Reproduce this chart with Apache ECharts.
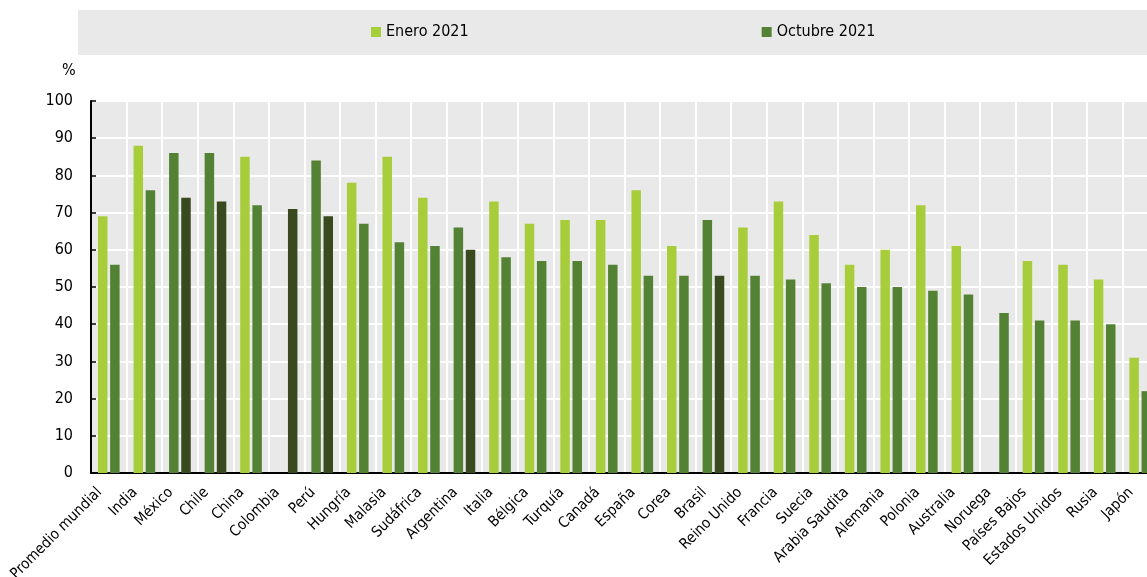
<!DOCTYPE html>
<html>
<head>
<meta charset="utf-8">
<script src="https://cdn.jsdelivr.net/npm/echarts@6/dist/echarts.min.js"></script>
<style>
  html, body { margin: 0; padding: 0; background: #fff; }
  #chart { width: 1147px; height: 577px; }
</style>
</head>
<body>
<div id="chart"></div>
<script>
const paises = ['Promedio mundial', 'India', 'México', 'Chile', 'China', 'Colombia', 'Perú', 'Hungría', 'Malasia', 'Sudáfrica',
  'Argentina', 'Italia', 'Bélgica', 'Turquía', 'Canadá', 'España', 'Corea', 'Brasil', 'Reino Unido', 'Francia',
  'Suecia', 'Arabia Saudita', 'Alemania', 'Polonia', 'Australia', 'Noruega', 'Países Bajos', 'Estados Unidos', 'Rusia', 'Japón']
const enero2021 = [69, 88, 86, 86, 85, null, 84, 78, 85, 74, 66, 73, 67, 68, 68, 76, 61, 68, 66, 73, 64, 56, 60, 72, 61, null, 57, 56, 52, 31]
const octubre2021 = [56, 76, 74, 73, 72, 71, 69, 67, 62, 61, 60, 58, 57, 57, 56, 53, 53, 53, 53, 52, 51, 50, 50, 49, 48, 43, 41, 41, 40, 22]
// países resaltados con tonos más oscuros
const destacados = ['México', 'Chile', 'Colombia', 'Perú', 'Argentina', 'Brasil']
const yTicks = [0, 10, 20, 30, 40, 50, 60, 70, 80, 90, 100]

const VERDE_CLARO = '#a8cd3a'
const VERDE = '#548235'
const VERDE_OSCURO = '#3a4a1f'
const FONT = '"DejaVu Sans Condensed", "Liberation Sans Narrow", "Liberation Sans", Arial, sans-serif'

const chart = echarts.init(document.getElementById('chart'))

const option = {
  animation: false,
  textStyle: { fontFamily: FONT },
  graphic: [
    {
      type: 'rect',
      left: 78, top: 10,
      shape: { width: 1069, height: 45 },
      style: { fill: '#e9e9e9' },
      z: -1
    },
    {
      type: 'text',
      left: 62, top: 63,
      style: { text: '%', fill: '#000', font: '16px ' + FONT }
    }
  ],
  legend: {
    left: 371,
    top: 24,
    padding: 0,
    itemWidth: 10,
    itemHeight: 10,
    itemGap: 293,
    icon: 'rect',
    textStyle: { fontSize: 16, color: '#000', fontFamily: FONT }
  },
  grid: {
    left: 91,
    top: 101,
    bottom: 104,
    right: -11,
    outerBoundsMode: 'none',
    containLabel: false,
    show: true,
    backgroundColor: '#e9e9e9',
    borderWidth: 0
  },
  xAxis: {
    type: 'category',
    data: paises,
    axisLine: { lineStyle: { color: '#000', width: 2 } },
    axisTick: { inside: true, length: 5, lineStyle: { color: '#000', width: 1.5 } },
    splitLine: { show: true, interval: 0, lineStyle: { color: '#fff', width: 2 } },
    axisLabel: { interval: 0, rotate: 45, fontSize: 15, color: '#000', margin: 8, padding: [0, 13, 0, 0], fontFamily: FONT }
  },
  yAxis: {
    type: 'value',
    min: yTicks[0],
    max: yTicks[yTicks.length - 1],
    interval: 10,
    axisLine: { show: true, lineStyle: { color: '#000', width: 2 } },
    axisTick: { show: true, inside: true, length: 5, lineStyle: { color: '#000', width: 1.5 } },
    splitLine: { show: true, lineStyle: { color: '#fff', width: 2 } },
    axisLabel: { fontSize: 16, color: '#000', margin: 18, fontFamily: FONT }
  },
  series: [
    {
      name: 'Enero 2021',
      type: 'bar',
      barWidth: 9.5,
      barGap: '28%',
      itemStyle: { color: VERDE_CLARO },
      data: enero2021.map((v, i) => ({
        value: v,
        itemStyle: { color: destacados.includes(paises[i]) ? VERDE : VERDE_CLARO }
      }))
    },
    {
      name: 'Octubre 2021',
      type: 'bar',
      barWidth: 9.5,
      itemStyle: { color: VERDE },
      data: octubre2021.map((v, i) => ({
        value: v,
        itemStyle: { color: destacados.includes(paises[i]) ? VERDE_OSCURO : VERDE }
      }))
    }
  ]
}

chart.setOption(option)
</script>
</body>
</html>
